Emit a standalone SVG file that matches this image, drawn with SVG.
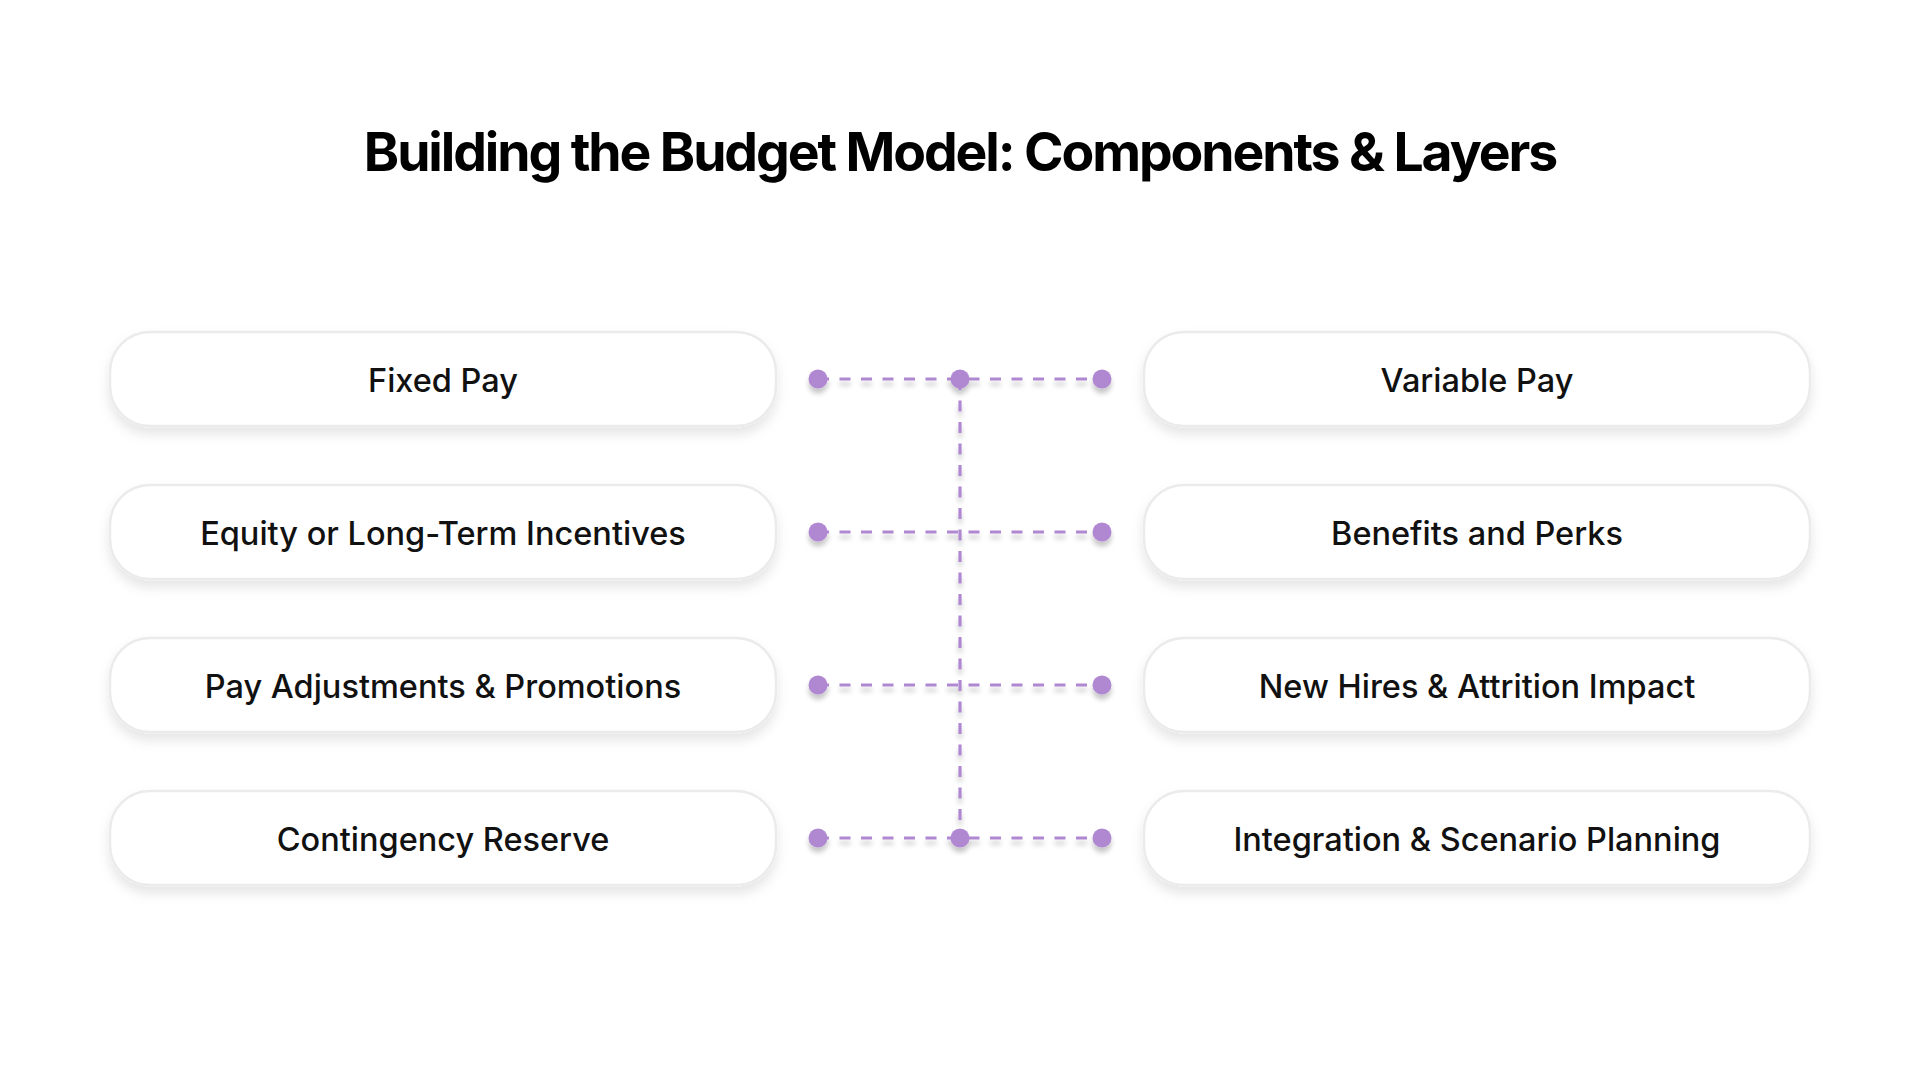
<svg xmlns="http://www.w3.org/2000/svg" width="1920" height="1080" viewBox="0 0 1920 1080">
  <defs>
    <filter id="boxShadow" x="-10%" y="-30%" width="120%" height="170%">
      <feDropShadow dx="0" dy="7" stdDeviation="6" flood-color="#000" flood-opacity="0.10"/>
    </filter>
    <filter id="dotShadow" x="-50%" y="-100%" width="200%" height="400%">
      <feDropShadow dx="0" dy="5" stdDeviation="2.5" flood-color="#000" flood-opacity="0.22"/>
    </filter>
    <style>
      .box { fill: #ffffff; stroke: #ebebeb; stroke-width: 2.5; filter: url(#boxShadow); }
      .label { font-family: Inter, "Noto Sans", sans-serif; font-size: 32.5px; font-weight: 500; fill: #111111; text-anchor: middle; letter-spacing: 0px; }
      .title { font-family: Inter, "Noto Sans", sans-serif; font-size: 53.5px; font-weight: 700; fill: #000000; text-anchor: middle; letter-spacing: -2.1px; }
      .dash { stroke: #b088d2; stroke-width: 3.2; stroke-dasharray: 11 10.5; fill: none; }
      .dot { fill: #b088d2; }
    </style>
  </defs>
  <rect width="1920" height="1080" fill="#ffffff"/>

  <text class="title" x="960" y="171">Building the Budget Model: Components &amp; Layers</text>

  <g id="connectors" filter="url(#dotShadow)">
    <line class="dash" x1="960" y1="379" x2="960" y2="838"/>
    <line class="dash" x1="818" y1="379" x2="1102" y2="379"/>
    <line class="dash" x1="818" y1="532" x2="1102" y2="532"/>
    <line class="dash" x1="818" y1="685" x2="1102" y2="685"/>
    <line class="dash" x1="818" y1="838" x2="1102" y2="838"/>
    <circle class="dot" cx="818" cy="379" r="9.5"/>
    <circle class="dot" cx="960" cy="379" r="9.5"/>
    <circle class="dot" cx="1102" cy="379" r="9.5"/>
    <circle class="dot" cx="818" cy="532" r="9.5"/>
    <circle class="dot" cx="1102" cy="532" r="9.5"/>
    <circle class="dot" cx="818" cy="685" r="9.5"/>
    <circle class="dot" cx="1102" cy="685" r="9.5"/>
    <circle class="dot" cx="818" cy="838" r="9.5"/>
    <circle class="dot" cx="960" cy="838" r="9.5"/>
    <circle class="dot" cx="1102" cy="838" r="9.5"/>
  </g>

  <g id="fixed-pay">
    <rect class="box" x="110" y="332" width="666" height="94" rx="40"/>
    <text class="label" x="443" y="392">Fixed Pay</text>
  </g>
  <g id="variable-pay">
    <rect class="box" x="1144" y="332" width="666" height="94" rx="40"/>
    <text class="label" x="1477" y="392">Variable Pay</text>
  </g>
  <g id="equity">
    <rect class="box" x="110" y="485" width="666" height="94" rx="40"/>
    <text class="label" x="443" y="545">Equity or Long-Term Incentives</text>
  </g>
  <g id="benefits">
    <rect class="box" x="1144" y="485" width="666" height="94" rx="40"/>
    <text class="label" x="1477" y="545">Benefits and Perks</text>
  </g>
  <g id="pay-adjustments">
    <rect class="box" x="110" y="638" width="666" height="94" rx="40"/>
    <text class="label" x="443" y="698">Pay Adjustments &amp; Promotions</text>
  </g>
  <g id="new-hires">
    <rect class="box" x="1144" y="638" width="666" height="94" rx="40"/>
    <text class="label" x="1477" y="698">New Hires &amp; Attrition Impact</text>
  </g>
  <g id="contingency">
    <rect class="box" x="110" y="791" width="666" height="94" rx="40"/>
    <text class="label" x="443" y="851">Contingency Reserve</text>
  </g>
  <g id="integration">
    <rect class="box" x="1144" y="791" width="666" height="94" rx="40"/>
    <text class="label" x="1477" y="851">Integration &amp; Scenario Planning</text>
  </g>
</svg>
